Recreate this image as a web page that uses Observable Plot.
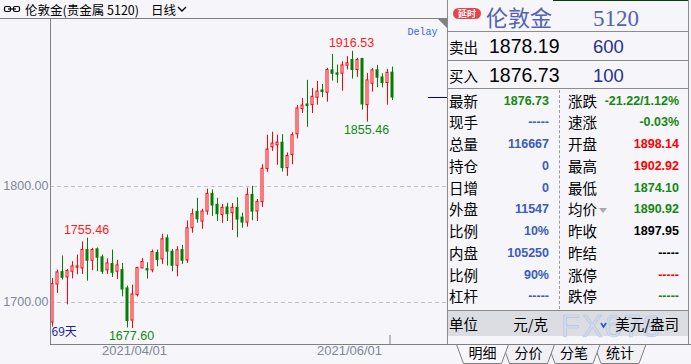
<!DOCTYPE html>
<html><head><meta charset="utf-8">
<script src="https://cdn.jsdelivr.net/npm/d3@7"></script>
<script src="https://cdn.jsdelivr.net/npm/@observablehq/plot@0.6"></script>
<style>
html,body{margin:0;padding:0;background:#f5f5fa;}
#root{position:relative;width:691px;height:364px;overflow:hidden;background:#f5f5fa;font-family:"Noto Sans CJK SC","Liberation Sans",sans-serif;}
</style></head><body><div id="root"></div>
<script>
// ---- candle data (daily, London gold 5120), index 0..68 ----
const OPEN  = [1682.7,1715.5,1726.2,1721.6,1726.5,1730.0,1729.4,1745.2,1736.0,1745.8,1738.9,1727.7,1733.1,1726.5,1727.9,1712.1,1684.4,1706.3,1729.4,1728.8,1727.7,1742.7,1737.2,1755.3,1743.8,1731.7,1745.2,1736.3,1764.0,1778.1,1769.8,1778.4,1793.7,1784.2,1775.5,1781.9,1777.0,1781.6,1773.2,1768.9,1792.8,1778.4,1786.5,1815.0,1833.8,1835.5,1837.8,1815.9,1827.2,1845.0,1866.9,1870.7,1870.1,1876.5,1882.8,1880.8,1900.1,1897.5,1897.2,1904.1,1909.0,1900.4,1909.9,1870.1,1888.6,1900.1,1894.0,1889.2,1898.14];
const HIGH  = [1720.7,1727.9,1740.1,1728.5,1735.2,1740.9,1752.2,1755.46,1746.7,1747.0,1740.9,1737.7,1745.2,1736.3,1733.7,1714.1,1715.0,1730.3,1738.0,1734.3,1745.2,1745.2,1758.8,1758.2,1745.8,1748.1,1749.3,1770.3,1780.4,1789.9,1780.4,1797.7,1797.1,1789.9,1784.5,1785.6,1785.3,1790.2,1777.0,1798.6,1800.1,1788.8,1818.8,1844.2,1846.8,1844.2,1844.7,1828.9,1846.2,1869.8,1875.9,1891.5,1884.5,1890.6,1888.0,1901.8,1913.9,1904.7,1907.6,1911.9,1916.53,1910.5,1910.5,1897.5,1901.6,1904.4,1897.2,1901.0,1902.92];
const LOW   = [1678.9,1707.8,1719.3,1698.0,1720.4,1723.9,1724.2,1718.4,1727.4,1726.5,1724.2,1724.2,1721.6,1719.9,1704.9,1678.1,1677.60,1704.9,1729.1,1720.2,1725.6,1730.8,1732.8,1731.4,1726.5,1722.2,1732.8,1733.7,1759.7,1768.3,1763.1,1775.2,1774.1,1769.8,1768.3,1769.8,1762.0,1755.9,1764.0,1764.9,1770.4,1769.8,1781.9,1812.2,1830.3,1818.2,1812.4,1808.7,1818.8,1841.0,1862.9,1851.1,1862.9,1870.1,1876.5,1872.7,1890.9,1888.9,1882.2,1900.4,1892.6,1894.1,1865.8,1855.46,1881.4,1885.1,1885.1,1870.1,1874.10];
const CLOSE = [1715.8,1725.9,1721.3,1727.1,1731.1,1731.1,1745.2,1736.0,1745.2,1738.6,1726.5,1733.7,1725.6,1732.0,1711.2,1684.1,1706.9,1729.7,1734.9,1727.7,1743.5,1736.6,1754.5,1743.8,1731.7,1745.0,1736.0,1764.0,1776.1,1771.8,1778.4,1793.7,1783.6,1776.1,1781.6,1776.1,1781.6,1771.5,1768.9,1792.8,1778.4,1786.8,1815.3,1831.8,1837.0,1837.8,1815.9,1826.3,1844.2,1867.2,1869.8,1869.3,1877.3,1881.9,1881.4,1900.4,1897.2,1896.4,1904.4,1906.2,1900.4,1909.0,1870.7,1891.5,1900.1,1893.8,1889.2,1897.95,1876.73];

const gridValues   = [1700, 1800];
const xTickIndex   = [17, 60];
const xTickLabels  = ["2021/04/01", "2021/06/01"];
const extremeIndex = [7, 16, 60, 63];
const extremeValue = [1755.46, 1677.60, 1916.53, 1855.46];
const extremeKind  = ["high", "low", "high", "low"];
const dayCountLabel = "69天";

// ---- quote panel data ----
const titleName = "伦敦金", titleCode = "5120";
const bidAskLabels = ["卖出", "买入"];
const bidAskPrices = ["1878.19", "1876.73"];
const bidAskVolumes = ["600", "100"];
const leftLabels  = ["最新","现手","总量","持仓","日增","外盘","比例","内盘","比例","杠杆"];
const leftValues  = ["1876.73","-----","116667","0","0","11547","10%","105250","90%","-----"];
const leftColors  = ["g","b","b","b","b","b","b","b","b","b"];
const rightLabels = ["涨跌","速涨","开盘","最高","最低","均价","昨收","昨结","涨停","跌停"];
const rightValues = ["-21.22/1.12%","-0.03%","1898.14","1902.92","1874.10","1890.92","1897.95","-----","-----","-----"];
const rightColors = ["g","g","r","r","g","g","k","k","r","g"];
const unitRow = ["单位", "元/克", "美元/盎司"];
const tabNames = ["明细", "分价", "分笔", "统计"];

const CJK = '"Noto Sans CJK SC", sans-serif';
const SANS = '"Liberation Sans", Arial, sans-serif';
const COL = {g:"#16880f", b:"#3a5bc0", r:"#ff0000", k:"#000000"};
const RED = "#ff0000", GREEN = "#008000", BG = "#f5f5fa", LINE = "#8c8c8c";

const root = document.getElementById("root");
function el(tag, css, html) {
  const e = document.createElement(tag);
  e.style.cssText = "position:absolute;" + css;
  if (html != null) e.innerHTML = html;
  root.appendChild(e);
  return e;
}
function txt(x, y, s, o = {}) {
  const anchor = o.anchor || "start";
  const tx = anchor === "end" ? "-100%" : anchor === "middle" ? "-50%" : "0";
  return el("div", `left:${x}px;top:${y}px;transform:translate(${tx},-50%);font-size:${o.size||14}px;color:${o.color||"#000"};font-weight:${o.weight||"normal"};font-family:${o.family||CJK};white-space:nowrap;line-height:1;${o.extra||""}`, s);
}
function hline(x1, x2, y, c = LINE) { el("div", `left:${x1}px;top:${y}px;width:${x2-x1}px;height:1px;background:${c};`); }
function vline(x, y1, y2, c = LINE) { el("div", `left:${x}px;top:${y1}px;width:1px;height:${y2-y1}px;background:${c};`); }

// ---- chart ----
const candles = OPEN.map((o, i) => ({i, open: o, high: HIGH[i], low: LOW[i], close: CLOSE[i]}));
const up = d => d.close >= d.open;
const extremes = extremeIndex.map((i, k) => ({i, value: extremeValue[k], kind: extremeKind[k]}));
const xDomain = [-0.4, 79];
const yDomain = [1663.79, 1944.83];
const n = candles.length;

const chart = Plot.plot({
  width: 447, height: 346,
  marginLeft: 50, marginRight: 0, marginTop: 0, marginBottom: 20,
  x: {domain: xDomain, axis: null},
  y: {domain: yDomain, axis: null},
  color: {type: "identity"},
  style: {background: "transparent", fontFamily: SANS, overflow: "visible"},
  marks: [
    Plot.ruleY(gridValues, {stroke: "#c2c2ca", strokeDasharray: "4,3"}),
    Plot.text(gridValues, {y: d => d, frameAnchor: "left", textAnchor: "end", dx: -2, text: d => d.toFixed(2), fill: "#7f8798", fontSize: 12.5}),
    Plot.ruleX(candles, {x: "i", y1: "low", y2: "high", stroke: d => up(d) ? RED : GREEN}),
    Plot.rect(candles, {x1: d => d.i - 0.2, x2: d => d.i + 0.2, y1: "open", y2: "close",
      fill: d => up(d) ? BG : GREEN, stroke: d => up(d) ? RED : GREEN, strokeWidth: 1}),
    Plot.text(extremes.filter(d => d.kind === "high"), {x: "i", y: "value", text: d => d.value.toFixed(2), dx: -1, dy: -8, fill: "#ff1a1a", fontSize: 12.5}),
    Plot.text(extremes.filter(d => d.kind === "low"), {x: "i", y: "value", text: d => d.value.toFixed(2), dx: -1, dy: 8, fill: "#138a10", fontSize: 12.5}),
    Plot.text([dayCountLabel], {text: d => d, frameAnchor: "bottom-left", textAnchor: "start", dx: 1, dy: -9, fill: "#1c1ca0", fontSize: 12, fontFamily: CJK}),
    Plot.text(xTickIndex, {x: d => d, frameAnchor: "bottom", dy: 10.5, dx: -3, text: (d, i) => xTickLabels[i], fill: "#808898", fontSize: 13}),
    Plot.ruleX([n - 1.5], {stroke: "#808080", insetTop: 317}),
    Plot.ruleY([CLOSE[n - 1]], {x1: xDomain[1] - 3.8, x2: xDomain[1], stroke: "#000080"}),
    Plot.text(["Delay"], {text: d => d, frameAnchor: "top-right", textAnchor: "end", dx: -10, dy: 9, fill: "#3366ee", fontSize: 10, fontFamily: '"Liberation Mono", monospace'}),
    Plot.ruleX([xDomain[0]], {stroke: "#808080"}),
    Plot.ruleY([yDomain[0]], {stroke: "#808080"})
  ]
});
chart.style.position = "absolute";
chart.style.left = "0px";
chart.style.top = "18px";
root.appendChild(chart);

// ---- header ----
root.insertAdjacentHTML("beforeend", `<svg style="position:absolute;left:0;top:0;" width="447" height="30">
  <rect x="4.5" y="6.5" width="6" height="5" rx="1.5" fill="none" stroke="#000" stroke-width="1.2"/>
  <rect x="13.5" y="6.5" width="6" height="5" rx="1.5" fill="none" stroke="#000" stroke-width="1.2"/>
  <line x1="8" y1="9" x2="16" y2="9" stroke="#000" stroke-width="1.2"/>
  <polyline points="178,7 182,11 186,7" fill="none" stroke="#000" stroke-width="1.4"/>
  <polygon points="437,18 447,18 447,28" fill="#808080"/>
</svg>`);
txt(25, 9.5, "伦敦金(贵金属 5120)", {size: 12.5});
txt(151, 9.5, "日线", {size: 12.5});
hline(0, 447, 18, "#808080");

// ---- quote panel ----
vline(447, 0, 344);
vline(688, 0, 344);
hline(553, 688, 0, "#0a3a0a");
hline(447, 688, 31);
hline(447, 688, 60);
hline(447, 688, 88);
el("div", `left:559px;top:90px;width:0;height:219px;border-left:1px dashed #9a9aa2;`);
hline(447, 688, 310);
el("div", `left:448px;top:311px;width:240px;height:25px;background:#dcdce3;`);
hline(447, 691, 344, "#808080");

el("div", `left:453px;top:8px;width:28px;height:11px;border-radius:6px;background:#e8434a;color:#fff;font-size:9px;line-height:11px;text-align:center;font-family:${CJK};font-weight:bold;`, "延时");
txt(486, 15.5, titleName, {size: 22, color: "#5362b2"});
txt(593, 17.5, titleCode, {size: 23, color: "#5362b2", family: '"Liberation Serif", serif'});

const baRowY = [46.5, 75.5];
bidAskLabels.forEach((lab, k) => {
  txt(449, baRowY[k], lab, {size: 14.5});
  txt(489, baRowY[k], bidAskPrices[k], {size: 19.5, family: SANS});
  txt(593, baRowY[k], bidAskVolumes[k], {size: 18.5, family: SANS, color: "#28328c"});
});

leftLabels.forEach((lab, k) => {
  const y = 100.7 + 21.75 * k;
  txt(449, y, lab, {size: 14.5});
  txt(549, y, leftValues[k], {anchor: "end", size: 12.5, weight: "bold", family: SANS, color: COL[leftColors[k]]});
  txt(568, y, rightLabels[k], {size: 14.5});
  txt(679, y, rightValues[k], {anchor: "end", size: 12.5, weight: "bold", family: SANS, color: COL[rightColors[k]]});
});
// small grey triangle after 均价
el("div", `left:599px;top:208px;width:0;height:0;border-left:4.5px solid transparent;border-right:4.5px solid transparent;border-top:5px solid #a8a8b2;`);

txt(449, 323.5, unitRow[0], {size: 14.5});
txt(548, 323.5, unitRow[1], {anchor: "end", size: 14.5});
txt(561, 326, "FX678", {size: 31, family: SANS, color: "rgba(205,220,240,0.8)", extra: "letter-spacing:2px;-webkit-text-stroke:0.6px rgba(150,175,210,0.55);"});
txt(679, 323.5, unitRow[2], {anchor: "end", size: 14.5});
// small blue check of the watermark logo (graphic)
root.insertAdjacentHTML("beforeend", `<svg style="position:absolute;left:600px;top:321px;" width="8" height="8"><polyline points="1,2 3.5,6 6,2" fill="none" stroke="#2d50c0" stroke-width="1.6"/></svg>`);

// tabs
const tabCenters = [482.5, 528.5, 574, 620];
let tabSvg = `<svg style="position:absolute;left:0;top:344px;" width="691" height="20">`;
[3, 2, 1, 0].forEach(k => {
  const c = tabCenters[k];
  tabSvg += `<polygon points="${c-26},0.5 ${c-19},19.5 ${c+19},19.5 ${c+26},0.5" fill="${k===0?'#f8f8fc':'#f0f0f5'}" stroke="#808080" stroke-width="1"/>`;
});
tabSvg += `</svg>`;
root.insertAdjacentHTML("beforeend", tabSvg);
tabNames.forEach((t, k) => txt(tabCenters[k], 352, t, {anchor: "middle", size: 14}));
</script></body></html>
